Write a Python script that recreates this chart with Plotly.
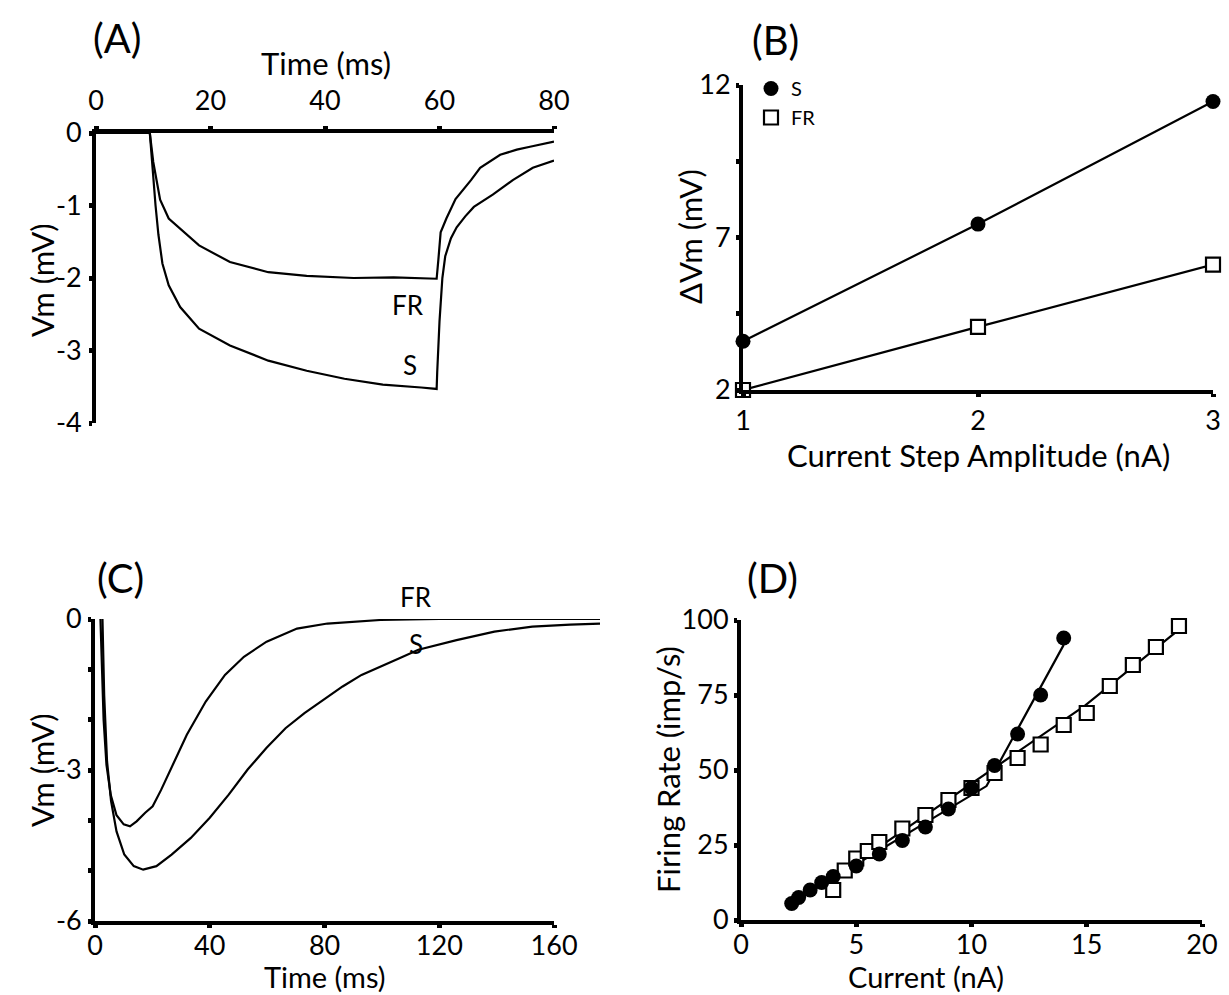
import numpy as np
import plotly.graph_objects as go

# ---------------- Panel A data (time in ms, Vm in mV) ----------------
a_s_t = [0, 5, 9.4, 9.8, 10.1, 10.4, 10.9, 11.6, 12.7, 14.7, 18.0, 23.4, 30.1, 36.8, 43.4, 50.1, 56.8, 59.5,
         59.6, 60.0, 60.5, 61.0, 62.0, 63.0, 64.5, 66.0, 69.3, 72.8, 76.3, 80.0]
a_s_v = [0, 0, 0, -0.4, -0.75, -1.0, -1.4, -1.8, -2.1, -2.4, -2.7, -2.93, -3.14, -3.28, -3.39, -3.47, -3.51, -3.53,
         -3.3, -2.6, -2.0, -1.7, -1.45, -1.3, -1.15, -1.02, -0.85, -0.65, -0.48, -0.38]
a_fr_t = [0, 5, 9.4, 10.0, 10.6, 11.2, 12.7, 15.4, 18.0, 23.4, 30.1, 36.8, 45.0, 52.0, 59.5,
          59.8, 60.2, 61.2, 62.8, 65.5, 67.1, 70.6, 73.5, 75.8, 80.0]
a_fr_v = [0, 0, 0, -0.4, -0.65, -0.92, -1.18, -1.37, -1.55, -1.78, -1.92, -1.97, -2.0, -1.99, -2.01,
          -1.75, -1.37, -1.18, -0.91, -0.65, -0.48, -0.30, -0.23, -0.19, -0.12]
a_xticks = [0, 20, 40, 60, 80]
a_xtext = ["0", "20", "40", "60", "80"]
a_yticks = [0, -1, -2, -3, -4]
a_ytext = ["0", "-1", "-2", "-3", "-4"]

# ---------------- Panel B data ----------------
b_current = [1, 2, 3]
b_s = [3.6, 7.44, 11.46]
b_fr = [2.0, 4.07, 6.11]
b_xticks = [1, 2, 3]
b_xtext = ["1", "2", "3"]
b_yticks = [2, 4.5, 7, 9.5, 12]
b_ytext = ["2", "", "7", "", "12"]

# ---------------- Panel C data ----------------
c_fr_t = [1.9, 2.4, 3.0, 4.0, 5.5, 7.5, 10.0, 12.2, 14.5, 17.5, 20.1, 23.0, 26.7, 32.0, 38.6, 45.3, 51.9,
          59.8, 70.4, 81.0, 99.5, 120, 140, 160, 176]
c_fr_v = [0, -1.0, -2.0, -2.9, -3.5, -3.9, -4.08, -4.12, -4.02, -3.85, -3.72, -3.4, -2.96, -2.3, -1.64, -1.11, -0.75,
          -0.45, -0.19, -0.09, -0.02, 0, 0, 0, 0]
c_s_t = [2.6, 3.2, 4.2, 5.6, 7.5, 10.2, 13.5, 16.8, 21.4, 26.7, 33.4, 40.0, 46.6, 53.2, 59.8, 66.4, 73.0,
         79.6, 86.3, 92.9, 99.5, 106.1, 112.7, 126.0, 139.2, 152.4, 165.6, 176.0]
c_s_v = [0, -1.51, -2.83, -3.62, -4.22, -4.68, -4.91, -4.98, -4.91, -4.68, -4.35, -3.95, -3.49, -2.99, -2.56, -2.17,
         -1.87, -1.61, -1.34, -1.11, -0.95, -0.78, -0.61, -0.42, -0.25, -0.15, -0.11, -0.09]
c_xticks = [0, 40, 80, 120, 160]
c_xtext = ["0", "40", "80", "120", "160"]
c_yticks = [0, -1, -2, -3, -4, -5, -6]
c_ytext = ["0", "", "", "-3", "", "", "-6"]

# ---------------- Panel D data ----------------
d_s_x = [2.2, 2.5, 3, 3.5, 4, 5, 6, 7, 8, 9, 10, 11, 12, 13, 14]
d_s_y = [5.5, 7.5, 10, 12.5, 14.5, 18, 22, 26.5, 31, 37, 44, 51.5, 62, 75, 94]
d_fr_x = [4, 4.5, 5, 5.5, 6, 7, 8, 9, 10, 11, 12, 13, 14, 15, 16, 17, 18, 19]
d_fr_y = [10, 16.5, 20.5, 23, 26, 30.5, 35, 40, 44, 49, 54, 58.5, 65, 69, 78, 85, 91, 98]
d_s_break = 10.5
d_fr_break = 10.5
d_xticks = [0, 5, 10, 15, 20]
d_xtext = ["0", "5", "10", "15", "20"]
d_yticks = [0, 25, 50, 75, 100]
d_ytext = ["0", "25", "50", "75", "100"]

FONT = "Lato, 'Open Sans', sans-serif"
W, H = 1229, 995
TICK_SIZE = 27
TITLE_SIZE = 31
BOTTOM_TITLE_SIZE = 27


def two_piece(xs, ys, brk):
    xs = np.asarray(xs, float)
    ys = np.asarray(ys, float)
    lo = xs <= brk
    hi = xs >= brk
    m1, c1 = np.polyfit(xs[lo], ys[lo], 1)
    m2, c2 = np.polyfit(xs[hi], ys[hi], 1)
    xi = (c2 - c1) / (m1 - m2)
    lx = [xs.min(), xi, xs.max()]
    ly = [m1 * xs.min() + c1, m1 * xi + c1, m2 * xs.max() + c2]
    return lx, ly


fig = go.Figure()
LW = 2.2

# Panel A
fig.add_trace(go.Scatter(x=a_fr_t, y=a_fr_v, mode="lines", line=dict(color="black", width=LW),
                         xaxis="x", yaxis="y", showlegend=False))
fig.add_trace(go.Scatter(x=a_s_t, y=a_s_v, mode="lines", line=dict(color="black", width=LW),
                         xaxis="x", yaxis="y", showlegend=False))

# Panel B
fig.add_trace(go.Scatter(x=b_current, y=b_s, mode="lines", line=dict(color="black", width=LW),
                         xaxis="x2", yaxis="y2", showlegend=False))
fig.add_trace(go.Scatter(x=b_current, y=b_fr, mode="lines", line=dict(color="black", width=LW),
                         xaxis="x2", yaxis="y2", showlegend=False))
fig.add_trace(go.Scatter(x=b_current, y=b_s, mode="markers", name="S",
                         marker=dict(symbol="circle", size=15, color="black"),
                         xaxis="x2", yaxis="y2", cliponaxis=False))
fig.add_trace(go.Scatter(x=b_current, y=b_fr, mode="markers", name="FR",
                         marker=dict(symbol="square", size=14, color="white", line=dict(color="black", width=2.2)),
                         xaxis="x2", yaxis="y2", cliponaxis=False))

# Panel C (data axis x3 extends past the drawn axis x5)
fig.add_trace(go.Scatter(x=[], y=[], mode="lines", xaxis="x5", yaxis="y3", showlegend=False,
                         hoverinfo="skip"))
fig.add_trace(go.Scatter(x=c_fr_t, y=c_fr_v, mode="lines", line=dict(color="black", width=LW),
                         xaxis="x3", yaxis="y3", showlegend=False))
fig.add_trace(go.Scatter(x=c_s_t, y=c_s_v, mode="lines", line=dict(color="black", width=LW),
                         xaxis="x3", yaxis="y3", showlegend=False))

# Panel D
sx, sy = two_piece(d_s_x, d_s_y, d_s_break)
fx, fy = two_piece(d_fr_x, d_fr_y, d_fr_break)
fig.add_trace(go.Scatter(x=sx, y=sy, mode="lines", line=dict(color="black", width=LW),
                         xaxis="x4", yaxis="y4", showlegend=False))
fig.add_trace(go.Scatter(x=fx, y=fy, mode="lines", line=dict(color="black", width=LW),
                         xaxis="x4", yaxis="y4", showlegend=False))
fig.add_trace(go.Scatter(x=d_fr_x, y=d_fr_y, mode="markers",
                         marker=dict(symbol="square", size=14, color="white", line=dict(color="black", width=2.2)),
                         xaxis="x4", yaxis="y4", showlegend=False, cliponaxis=False))
fig.add_trace(go.Scatter(x=d_s_x, y=d_s_y, mode="markers",
                         marker=dict(symbol="circle", size=15, color="black"),
                         xaxis="x4", yaxis="y4", showlegend=False, cliponaxis=False))


def ax(**kw):
    base = dict(showline=True, linewidth=4, linecolor="black", ticks="outside", ticklen=3, tickwidth=5,
                tickcolor="black", showgrid=False, zeroline=False, mirror=False, automargin=False,
                tickfont=dict(family=FONT, size=TICK_SIZE, color="black"), fixedrange=True,
                tickmode="array")
    base.update(kw)
    return base


def px(x0, x1):
    return [x0 / W, x1 / W]


def py(top, bottom):
    return [1 - bottom / H, 1 - top / H]


fig.update_layout(
    width=W, height=H, margin=dict(l=0, r=0, t=0, b=0, pad=0, autoexpand=False),
    paper_bgcolor="white", plot_bgcolor="rgba(0,0,0,0)",
    font=dict(family=FONT, color="black"),
    xaxis=ax(domain=px(96, 554), anchor="y", side="top", range=[0, 80],
             tickvals=a_xticks, ticktext=a_xtext, ticklabelstandoff=5),
    yaxis=ax(domain=py(133, 423), anchor="x", range=[-4, 0],
             tickvals=a_yticks, ticktext=a_ytext, ticklabelstandoff=2),
    xaxis2=ax(domain=px(743, 1213), anchor="y2", range=[1, 3],
              tickvals=b_xticks, ticktext=b_xtext, ticklabelstandoff=1),
    yaxis2=ax(domain=py(85, 390), anchor="x2", range=[2, 12],
              tickvals=b_yticks, ticktext=b_ytext, ticklabelstandoff=0),
    xaxis3=dict(domain=px(95, 600), anchor="y3", range=[0, 176], visible=False, fixedrange=True),
    yaxis3=ax(domain=py(619, 921), anchor="x5", range=[-6, 0],
              tickvals=c_yticks, ticktext=c_ytext, ticklabelstandoff=1),
    xaxis5=ax(domain=px(95, 554.1), anchor="y3", range=[0, 160],
              tickvals=c_xticks, ticktext=c_xtext, ticklabelstandoff=-5),
    xaxis4=ax(domain=px(741, 1202), anchor="y4", range=[0, 20],
              tickvals=d_xticks, ticktext=d_xtext, ticklabelstandoff=-5),
    yaxis4=ax(domain=py(620, 920), anchor="x4", range=[0, 100],
              tickvals=d_yticks, ticktext=d_ytext, ticklabelstandoff=0),
    showlegend=True,
    legend=dict(x=751 / W, y=1 - 69 / H, xanchor="left", yanchor="top", bgcolor="rgba(0,0,0,0)",
                font=dict(family=FONT, size=20, color="black"), itemwidth=30, tracegroupgap=0),
)

# Trace labels
lab = dict(font=dict(family=FONT, size=26, color="black"), showarrow=False, xanchor="center", yanchor="middle")
fig.add_annotation(x=54.5, y=-2.37, xref="x", yref="y", text="FR", **lab)
fig.add_annotation(x=54.8, y=-3.2, xref="x", yref="y", text="S", **lab)
fig.add_annotation(x=112, y=0, yshift=22, xref="x3", yref="y3", text="FR", **lab)
fig.add_annotation(x=112, y=-0.5, xref="x3", yref="y3", text="S", **lab)

# Axis titles
tl = dict(font=dict(family=FONT, size=TITLE_SIZE, color="black"), showarrow=False, xref="paper", yref="paper",
          xanchor="center", yanchor="middle")
tlb = dict(tl, font=dict(family=FONT, size=BOTTOM_TITLE_SIZE + 2, color="black"), yanchor="bottom")
fig.add_annotation(x=326 / W, y=1 - 63 / H, text="Time (ms)", **tl)
fig.add_annotation(x=42 / W, y=1 - 280 / H, text="Vm (mV)", textangle=-90, **tl)
fig.add_annotation(x=978 / W, y=1 - 455 / H, text="Current Step Amplitude (nA)", **tl)
fig.add_annotation(x=690 / W, y=1 - 237 / H, text="ΔVm (mV)", textangle=-90, **tl)
fig.add_annotation(x=325 / W, y=0, borderpad=0, text="Time (ms)", **tlb)
fig.add_annotation(x=42 / W, y=1 - 770 / H, text="Vm (mV)", textangle=-90, **tl)
fig.add_annotation(x=926 / W, y=0, borderpad=0, text="Current (nA)", **tlb)
fig.add_annotation(x=668 / W, y=1 - 770 / H, text="Firing Rate (imp/s)", textangle=-90, **tl)

# Panel letters
plab = dict(font=dict(family=FONT, size=40, color="black"), showarrow=False, xref="paper", yref="paper",
            xanchor="center", yanchor="middle")
fig.add_annotation(x=117 / W, y=1 - 38 / H, text="(A)", **plab)
fig.add_annotation(x=776 / W, y=1 - 40 / H, text="(B)", **plab)
fig.add_annotation(x=120 / W, y=1 - 578 / H, text="(C)", **plab)
fig.add_annotation(x=772 / W, y=1 - 578 / H, text="(D)", **plab)

fig.write_html("out.html")
